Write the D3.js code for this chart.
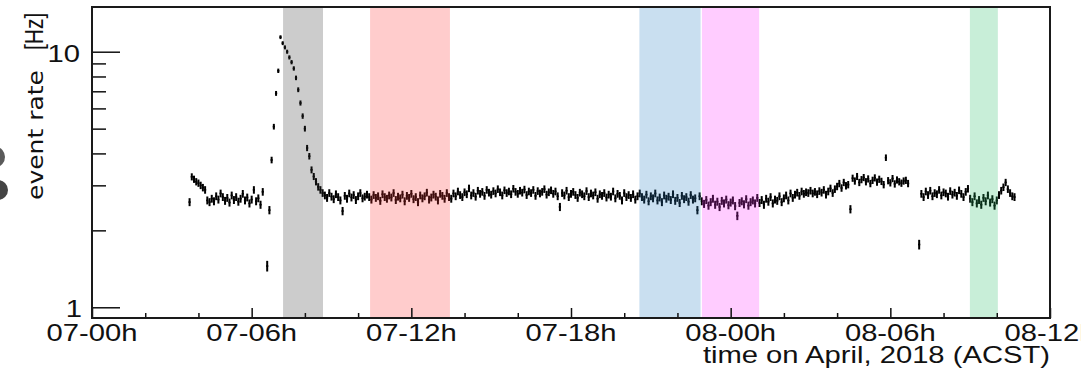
<!DOCTYPE html>
<html><head><meta charset="utf-8">
<script src="https://cdn.jsdelivr.net/npm/d3@7"></script>
<style>html,body{margin:0;padding:0;background:#fff;overflow:hidden}</style>
</head><body><svg id="c" width="1092" height="372"></svg>
<script>
// ---- data (hours since 07-00h ACST) ----
const startHour = 3.625;
const binMinutes = 5;
const rates = [
  2.58,
  3.24, 3.17, 3.10, 3.06, 3.00, 2.94, 2.88,
  2.62, 2.58, 2.66, 2.60, 2.72, 2.64, 2.79, 2.70, 2.61, 2.68, 2.57, 2.74, 2.63, 2.70, 2.59, 2.66, 2.78, 2.62, 2.69, 2.55, 2.64, 2.88, 2.60, 2.67, 2.52, 2.83,
  null,
  1.45, 2.40, 3.77, 5.09, 6.87, 8.42, 11.4, 10.8, 10.4, 10.0, 9.5, 9.1, 8.6, 7.9, 7.1, 6.3, 5.6, 5.0, 4.2, 3.9, 3.45, 3.25, 3.10, 2.96, 2.88, 2.80,
  2.74, 2.68, 2.80, 2.71, 2.65, 2.77, 2.70, 2.62, 2.38, 2.73, 2.66, 2.79, 2.69, 2.75, 2.63, 2.72, 2.80, 2.67, 2.71, 2.76,
  2.70, 2.64, 2.75, 2.68, 2.72, 2.61, 2.77, 2.70, 2.66, 2.74, 2.69, 2.80, 2.63, 2.71, 2.67, 2.76, 2.60, 2.73, 2.68, 2.78, 2.65, 2.70, 2.58, 2.74, 2.67, 2.72, 2.81, 2.64, 2.69, 2.76, 2.71, 2.62, 2.78, 2.73, 2.66, 2.80, 2.70,
  2.66, 2.79, 2.72, 2.84, 2.75, 2.70, 2.82, 2.77, 2.92, 2.74,
  2.80, 2.71, 2.86, 2.78, 2.83, 2.73, 2.88, 2.81, 2.76, 2.85,
  2.79, 2.90, 2.82, 2.74, 2.87, 2.80, 2.84, 2.77, 2.91, 2.83,
  2.78, 2.86, 2.81, 2.89, 2.75, 2.84, 2.80, 2.88, 2.73, 2.85,
  2.79, 2.83, 2.90, 2.76, 2.82, 2.87, 2.78, 2.84, 2.72, 2.47,
  2.80, 2.74, 2.86, 2.70, 2.78, 2.83, 2.75, 2.68, 2.81, 2.77,
  2.72, 2.85, 2.70, 2.79, 2.74, 2.82, 2.66, 2.77, 2.73, 2.80,
  2.69, 2.76, 2.71, 2.84, 2.67, 2.78, 2.73, 2.62, 2.80, 2.70,
  2.75, 2.68, 2.77, 2.64, 2.72, 2.79,
  2.70, 2.64, 2.76, 2.60, 2.72, 2.67, 2.79, 2.62, 2.69, 2.58, 2.74, 2.66, 2.71, 2.63, 2.77, 2.61, 2.68, 2.56, 2.73, 2.65, 2.70, 2.59, 2.75, 2.64, 2.67, 2.40, 2.72,
  2.60, 2.54, 2.63, 2.50, 2.58, 2.66, 2.52, 2.59, 2.47, 2.61, 2.55, 2.64, 2.51, 2.57, 2.62, 2.49, 2.28, 2.56, 2.60, 2.53, 2.65, 2.50, 2.58, 2.62, 2.55, 2.68,
  2.56, 2.63, 2.52, 2.66, 2.59, 2.70, 2.55, 2.64, 2.61, 2.72, 2.58, 2.67, 2.74, 2.62, 2.79, 2.68, 2.76, 2.81, 2.73, 2.84, 2.78, 2.82, 2.80, 2.86, 2.79, 2.83, 2.77, 2.85, 2.81, 2.88, 2.76, 2.84, 2.92, 2.80,
  2.90, 2.97, 3.05, 2.93, 3.08, 2.99, 3.02, 2.42,
  3.20, 3.12, 3.25, 3.08, 3.16, 3.22, 3.10, 3.18, 3.05, 3.14, 3.21, 3.09, 3.17, 3.11, 3.02, 3.85, 3.13, 3.07, 3.19, 3.04, 3.15, 3.10, 3.06, 3.12,
  3.14, 3.05,
  null, null, null, null,
  1.76,
  2.78, 2.70, 2.84, 2.75, 2.86, 2.72, 2.80, 2.77, 2.88, 2.74, 2.82, 2.79, 2.71, 2.85, 2.76, 2.81, 2.73, 2.87, 2.78, 2.70, 2.83, 2.91,
  2.66, 2.58, 2.72, 2.55, 2.63, 2.52, 2.68, 2.60, 2.74, 2.57, 2.65, 2.50, 2.62,
  2.75, 2.86, 2.95, 3.08, 2.90, 2.80, 2.72, 2.70
];
const majorTickHours = [0, 6, 12, 18, 24, 30, 36];
const tickLabels = ["07-00h", "07-06h", "07-12h", "07-18h", "08-00h", "08-06h", "08-12h"];
const minorTickHours = [2, 4, 8, 10, 14, 16, 20, 22, 26, 28, 32, 34];
const yMajorTicks = [1, 10];
const yTickLabels = ["1", "10"];
const yMinorTicks = [2, 3, 4, 5, 6, 7, 8, 9];
const bandStart = [7.18, 10.45, 20.57, 22.92, 32.99];
const bandEnd = [8.68, 13.45, 22.87, 25.07, 34.04];
const bandColors = ["#333333", "#ff3333", "#277fc3", "#ff33ff", "#23bb63"];
const xTitle = "time on April, 2018 (ACST)";
const yTitle = "event rate";
const yUnit = "[Hz]";

// ---- layout ----
const L = 92, R = 1050, T = 7, B = 318;
const SX = 1.27; // horizontal stretch of the original picture's text
const svg = d3.select("#c");
svg.append("rect").attr("width", 1092).attr("height", 372).attr("fill", "#fff");

const x = d3.scaleLinear().domain([0, 36]).range([L, R]);
const y = d3.scaleLog().domain([0.908, 14.96]).range([B, T]);

const binSeconds = binMinutes * 60;
const pts = rates.map((v, i) => ({ t: startHour + (i + 0.5) * binMinutes / 60, v }))
  .filter(d => d.v != null);
const half = binMinutes / 120;

svg.append("clipPath").attr("id", "frame")
  .append("rect").attr("x", L).attr("y", T).attr("width", R - L).attr("height", B - T);

const gData = svg.append("g").attr("clip-path", "url(#frame)");
gData.selectAll("line.v").data(pts).join("line").attr("class", "v")
  .attr("x1", d => x(d.t)).attr("x2", d => x(d.t))
  .attr("y1", d => y(d.v + Math.sqrt(d.v * binSeconds) / binSeconds))
  .attr("y2", d => y(d.v - Math.sqrt(d.v * binSeconds) / binSeconds))
  .attr("stroke", "#000").attr("stroke-width", 2);
gData.selectAll("line.h").data(pts).join("line").attr("class", "h")
  .attr("x1", d => x(d.t - half)).attr("x2", d => x(d.t + half))
  .attr("y1", d => y(d.v)).attr("y2", d => y(d.v))
  .attr("stroke", "#000").attr("stroke-width", 1.6);

// bands drawn over the data, semi-transparent
svg.append("g").selectAll("rect").data(bandStart).join("rect")
  .attr("x", (d) => x(d)).attr("width", (d, i) => x(bandEnd[i]) - x(d))
  .attr("y", T).attr("height", B - T)
  .attr("fill", (d, i) => bandColors[i]).attr("fill-opacity", 0.25);

// ---- axes ----
function styleAxis(g) {
  g.select(".domain").remove();
  g.selectAll(".tick line").attr("stroke", "#111").attr("stroke-width", 1.5);
  g.selectAll(".tick text").remove();
}
svg.append("g").attr("transform", `translate(0,${B})`)
  .call(d3.axisBottom(x).tickValues(minorTickHours).tickSize(-5)).call(styleAxis);
svg.append("g").attr("transform", `translate(0,${B})`)
  .call(d3.axisBottom(x).tickValues(majorTickHours).tickSize(-10)).call(styleAxis);
svg.append("g").attr("transform", `translate(${L},0)`)
  .call(d3.axisLeft(y).tickValues(yMinorTicks).tickSize(-14)).call(styleAxis);
svg.append("g").attr("transform", `translate(${L},0)`)
  .call(d3.axisLeft(y).tickValues(yMajorTicks).tickSize(-28)).call(styleAxis);

// frame
svg.append("rect").attr("x", L).attr("y", T).attr("width", R - L).attr("height", B - T)
  .attr("fill", "none").attr("stroke", "#1a1a1a").attr("stroke-width", 2);

const font = "'Liberation Sans', Arial, Helvetica, sans-serif";
svg.append("clipPath").attr("id", "lab")
  .append("rect").attr("x", 0).attr("y", 0).attr("width", 1081).attr("height", 372);
const gLab = svg.append("g").attr("clip-path", "url(#lab)");
gLab.selectAll("text.xl").data(majorTickHours).join("text").attr("class", "xl")
  .attr("transform", d => `translate(${x(d)},340.5) scale(${SX},1)`)
  .attr("text-anchor", "middle").attr("font-family", font).attr("font-size", 23)
  .attr("fill", "#111").text((d, i) => tickLabels[i]);

svg.selectAll("text.yl").data(yMajorTicks).join("text").attr("class", "yl")
  .attr("transform", (d, i) => `translate(${i === 0 ? 82 : 80},${y(d) + 10}) scale(${SX},1)`)
  .attr("text-anchor", "end").attr("font-family", font).attr("font-size", 23)
  .attr("fill", "#111").text((d, i) => yTickLabels[i]);

svg.append("text")
  .attr("transform", `translate(${R},363) scale(${SX},1)`)
  .attr("text-anchor", "end").attr("font-family", font).attr("font-size", 23)
  .attr("fill", "#111").text(xTitle);

svg.append("text")
  .attr("transform", `translate(43,200) scale(${SX},1) rotate(-90)`)
  .attr("text-anchor", "start").attr("font-family", "'DejaVu Sans', sans-serif").attr("font-size", 17)
  .attr("textLength", 130).attr("lengthAdjust", "spacingAndGlyphs")
  .attr("fill", "#111").text(yTitle);
svg.append("text")
  .attr("transform", `translate(43,50) scale(${SX},1) rotate(-90)`)
  .attr("text-anchor", "start").attr("font-family", font).attr("font-size", 21)
  .attr("fill", "#111").text(yUnit);

// partial grey marks at the far left edge
svg.append("ellipse").attr("cx", -4).attr("cy", 157).attr("rx", 9).attr("ry", 10).attr("fill", "#5a5a5a");
svg.append("ellipse").attr("cx", -2).attr("cy", 190).attr("rx", 10).attr("ry", 10).attr("fill", "#444");
</script></body></html>
